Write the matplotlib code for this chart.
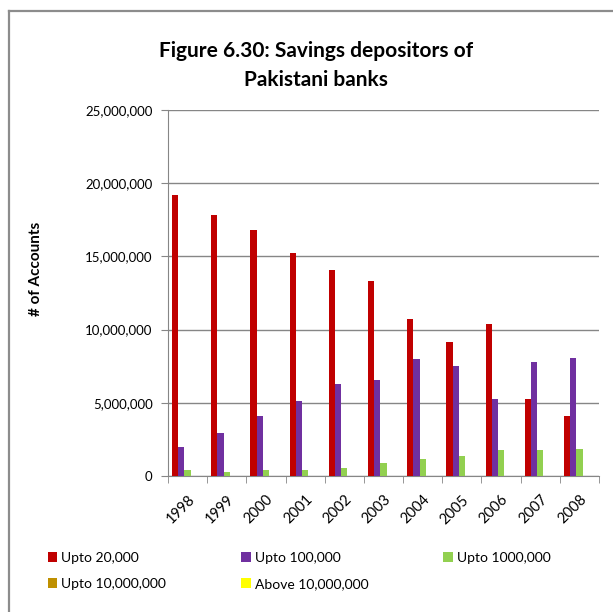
import numpy as np
import matplotlib
matplotlib.use('Agg')
import matplotlib.pyplot as plt
from matplotlib.lines import Line2D
from matplotlib.ticker import FuncFormatter, MultipleLocator

# Dữ liệu
years = ['1998', '1999', '2000', '2001', '2002', '2003', '2004', '2005', '2006', '2007', '2008']
upto_20k = [19160000, 17860000, 16820000, 15250000, 14090000, 13310000,
            10700000, 9130000, 10360000, 5260000, 4080000]
upto_100k = [1980000, 2940000, 4080000, 5100000, 6310000, 6580000,
             7990000, 7540000, 5280000, 7810000, 8080000]
upto_1m = [390000, 300000, 390000, 390000, 550000, 890000,
           1190000, 1340000, 1800000, 1800000, 1870000]
upto_10m = [15000, 15000, 15000, 15000, 16000, 17000, 18000, 19000, 20000, 21000, 22000]
above_10m = [3000, 3000, 3000, 3000, 3000, 3000, 4000, 4000, 4000, 4000, 4000]

series_names = ['Upto 20,000', 'Upto 100,000', 'Upto 1000,000',
                'Upto 10,000,000', 'Above 10,000,000']
series_values = [upto_20k, upto_100k, upto_1m, upto_10m, above_10m]
colors = ['#C00000', '#7030A0', '#92D050', '#BF9000', '#FFFF00']

plt.rcParams['font.family'] = ['Lato', 'DejaVu Sans']
grey = '#868686'

fig = plt.figure(figsize=(6.13, 6.12), dpi=100)
ax = fig.add_axes([168 / 613, 1 - 476 / 612, 431 / 613, 366 / 612])

x = np.arange(len(years))
w = 0.158
handles = []
for i, (name, vals, c) in enumerate(zip(series_names, series_values, colors)):
    b = ax.bar(x + (i - 2) * w, vals, width=w, color=c, label=name, zorder=3)
    handles.append(b)

ax.set_xlim(-0.5, len(years) - 0.5)
ax.set_ylim(0, 25000000)
ax.yaxis.set_major_locator(MultipleLocator(5000000))
ax.yaxis.set_major_formatter(FuncFormatter(lambda v, p: f'{v:,.0f}'))
ax.grid(axis='y', color=grey, linewidth=1.0, zorder=0)

# nhãn năm xoay 45 độ, vạch chia ở ranh giới nhóm
ax.set_xticks(x)
ax.set_xticklabels(years, rotation=45, ha='right', va='top', rotation_mode='anchor', fontsize=10.5)
ax.set_xticks(np.arange(-0.5, len(years)), minor=True)
ax.tick_params(axis='x', which='major', length=0, pad=12)
ax.tick_params(axis='x', which='minor', length=5, color=grey)
ax.tick_params(axis='y', length=5, color=grey, labelsize=9.5, pad=6)

for s in ['top', 'right']:
    ax.spines[s].set_visible(False)
for s in ['left', 'bottom']:
    ax.spines[s].set_color(grey)

ax.set_ylabel('# of Accounts', fontsize=11, fontweight='bold')
ax.yaxis.set_label_coords(-0.29, 0.565)

fig.text(0.515, 0.893, 'Figure 6.30: Savings depositors of\nPakistani banks',
         ha='center', va='center', fontsize=15, fontweight='bold', linespacing=1.6)

# chú giải theo hàng (3 cột)
order = [0, 3, 1, 4, 2]
fig.legend([handles[i] for i in order], [series_names[i] for i in order],
           ncol=3, loc='upper left', bbox_to_anchor=(42 / 613, 0.025, 514 / 613, 0.082),
           mode='expand', frameon=False, fontsize=10, handlelength=0.7, handleheight=0.7,
           handletextpad=0.3, labelspacing=1.0, borderaxespad=0)

# khung viền ngoài
fig.add_artist(Line2D([9 / 613, 9 / 613], [0, 1 - 11 / 612], color='#8c8c8c', linewidth=1.6))
fig.add_artist(Line2D([9 / 613, 1], [1 - 11 / 612, 1 - 11 / 612], color='#8c8c8c', linewidth=1.6))

plt.savefig('out.png', dpi=100)
plt.close()
